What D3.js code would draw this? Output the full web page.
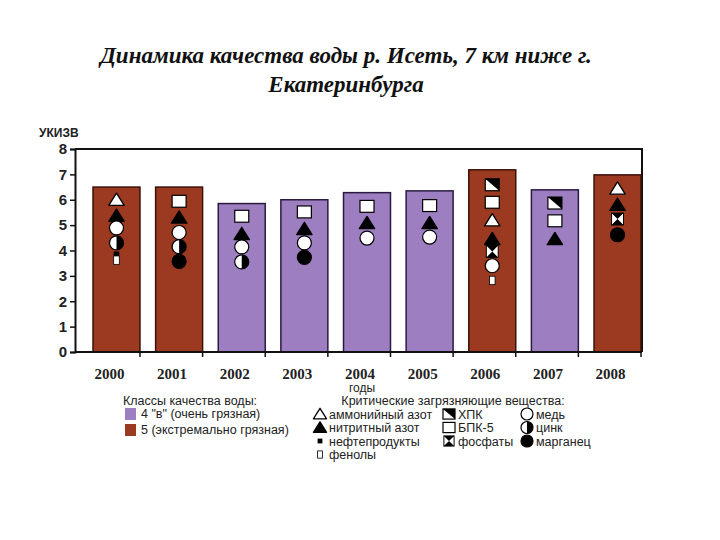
<!DOCTYPE html>
<html>
<head>
<meta charset="utf-8">
<script src="https://cdn.jsdelivr.net/npm/d3@7"></script>
<style>
  body { margin: 0; background: #fff; }
  text { font-family: "Liberation Sans", Arial, sans-serif; }
</style>
</head>
<body>
<svg id="chart" width="720" height="540"></svg>
<script>
// data
const years = ['2000', '2001', '2002', '2003', '2004', '2005', '2006', '2007', '2008'];
const ukizv = [6.5, 6.5, 5.85, 6.0, 6.28, 6.35, 7.18, 6.39, 6.98];
const waterClass = [5, 5, 4, 4, 4, 4, 5, 4, 5];
const yTicks = [0, 1, 2, 3, 4, 5, 6, 7, 8];

// critical pollutants per year: [code, position on УКИЗВ scale]
const pollutants = [
    [['amm', 6.0], ['nit', 5.37], ['cu', 4.89], ['zn', 4.3], ['neft', 3.85], ['phen', 3.62]],
    [['bpk', 5.94], ['nit', 5.3], ['cu', 4.71], ['zn', 4.15], ['mn', 3.57]],
    [['bpk', 5.35], ['nit', 4.65], ['cu', 4.14], ['zn', 3.55]],
    [['bpk', 5.52], ['nit', 4.85], ['cu', 4.3], ['mn', 3.73]],
    [['bpk', 5.74], ['nit', 5.08], ['cu', 4.49]],
    [['bpk', 5.77], ['nit', 5.08], ['cu', 4.53]],
    [['xpk', 6.59], ['bpk', 5.9], ['amm', 5.19], ['nit', 4.45], ['phos', 3.96], ['cu', 3.4], ['phen', 2.82]],
    [['xpk', 5.87], ['bpk', 5.17], ['nit', 4.45]],
    [['amm', 6.44], ['nit', 5.8], ['phos', 5.24], ['mn', 4.62]]
];

const classLabels = [[4, '4 "в" (очень грязная)'], [5, '5 (экстремально грязная)']];
const substanceLabels = [
    ['amm', 'аммонийный азот'], ['nit', 'нитритный азот'], ['neft', 'нефтепродукты'], ['phen', 'фенолы'],
    ['xpk', 'ХПК'], ['bpk', 'БПК-5'], ['phos', 'фосфаты'],
    ['cu', 'медь'], ['zn', 'цинк'], ['mn', 'марганец']
];

const classColor = { 4: '#9d7ec0', 5: '#9b3a20' };

const svg = d3.select('#chart');

// title
const titleLines = ['Динамика качества воды р. Исеть, 7 км ниже г.', 'Екатеринбурга'];
svg.selectAll('.title').data(titleLines).enter().append('text')
    .attr('class', 'title')
    .attr('x', 346).attr('y', (d, i) => 63 + i * 29)
    .attr('text-anchor', 'middle')
    .style('font-family', '"Liberation Serif", "Times New Roman", serif')
    .style('font-style', 'italic').style('font-weight', 'bold')
    .style('font-size', '23px')
    .attr('fill', '#111')
    .text(d => d);

const plotLeft = 75, plotRight = 642, plotTop = 149, plotBottom = 352;

const x = d3.scaleBand().domain(years).range([93, 641]).paddingInner(0.25).paddingOuter(0);
const y = d3.scaleLinear().domain([0, 8]).range([plotBottom, plotTop]);

// frame top/right
svg.append('path')
    .attr('d', `M${plotLeft},${plotTop}H${plotRight}V${plotBottom}`)
    .attr('fill', 'none').attr('stroke', '#111').attr('stroke-width', 2);

// bars
svg.selectAll('.bar').data(years).enter().append('rect')
    .attr('class', 'bar')
    .attr('x', d => x(d))
    .attr('width', x.bandwidth())
    .attr('y', (d, i) => y(ukizv[i]))
    .attr('height', (d, i) => plotBottom - y(ukizv[i]))
    .attr('fill', (d, i) => classColor[waterClass[i]])
    .attr('stroke', (d, i) => waterClass[i] == 5 ? '#3a1208' : '#2a1a40')
    .attr('stroke-width', 1.5);

// y axis
const yAxis = svg.append('g')
    .attr('transform', `translate(${plotLeft},0)`)
    .call(d3.axisLeft(y).tickValues(yTicks).tickSize(5).tickFormat(d3.format('d')));
yAxis.select('.domain').attr('stroke', '#111').attr('stroke-width', 2);
yAxis.selectAll('.tick line').attr('stroke', '#111').attr('stroke-width', 1.5);
yAxis.selectAll('.tick text')
    .attr('x', -8)
    .style('font-size', '15px').style('font-weight', 'bold').attr('fill', '#222');

svg.append('text')
    .attr('x', 39).attr('y', 137)
    .style('font-size', '12px').style('font-weight', 'bold').attr('fill', '#222')
    .text('УКИЗВ');

// x axis: baseline with ticks at the right edge of each bar
svg.append('line')
    .attr('x1', plotLeft).attr('x2', plotRight).attr('y1', plotBottom).attr('y2', plotBottom)
    .attr('stroke', '#111').attr('stroke-width', 2);
svg.selectAll('.xtick').data(years).enter().append('line')
    .attr('class', 'xtick')
    .attr('x1', d => x(d) + x.bandwidth()).attr('x2', d => x(d) + x.bandwidth())
    .attr('y1', plotBottom).attr('y2', plotBottom + 5)
    .attr('stroke', '#111').attr('stroke-width', 1.5);
svg.selectAll('.xlabel').data(years).enter().append('text')
    .attr('class', 'xlabel')
    .attr('x', d => x(d) + x.bandwidth() / 2 - 7)
    .attr('y', 379)
    .attr('text-anchor', 'middle')
    .style('font-family', '"Liberation Serif", "Times New Roman", serif')
    .style('font-weight', 'bold').style('font-size', '15px')
    .attr('fill', '#222')
    .text(d => d);
svg.append('text')
    .attr('x', 362).attr('y', 392)
    .attr('text-anchor', 'middle')
    .style('font-size', '12px').attr('fill', '#222')
    .text('годы');

// pollutant symbols
function drawSymbol(g, code, cx, cy, s) {
    const h = s / 2;
    if (code == 'amm' || code == 'nit') {
        g.append('path')
            .attr('d', `M${cx},${cy - h * 0.95}L${cx + h * 1.1},${cy + h * 0.8}L${cx - h * 1.1},${cy + h * 0.8}Z`)
            .attr('fill', code == 'amm' ? '#fff' : '#000')
            .attr('stroke', '#000').attr('stroke-width', 1.3).attr('stroke-linejoin', 'round');
    } else if (code == 'bpk' || code == 'xpk') {
        g.append('rect')
            .attr('x', cx - h).attr('y', cy - h * 0.85).attr('width', s).attr('height', s * 0.85)
            .attr('fill', '#fff').attr('stroke', '#000').attr('stroke-width', 1.2);
        if (code == 'xpk') {
            g.append('path')
                .attr('d', `M${cx - h},${cy - h * 0.85}H${cx + h}V${cy + h * 0.85}Z`)
                .attr('fill', '#000');
        }
    } else if (code == 'phos') {
        g.append('rect')
            .attr('x', cx - h * 0.85).attr('y', cy - h * 0.85).attr('width', s * 0.85).attr('height', s * 0.85)
            .attr('fill', '#fff').attr('stroke', '#000').attr('stroke-width', 1);
        g.append('path')
            .attr('d', `M${cx - h * 0.85},${cy - h * 0.85}H${cx + h * 0.85}L${cx},${cy}Z` +
                `M${cx - h * 0.85},${cy + h * 0.85}H${cx + h * 0.85}L${cx},${cy}Z`)
            .attr('fill', '#000');
    } else if (code == 'cu' || code == 'mn') {
        g.append('circle')
            .attr('cx', cx).attr('cy', cy).attr('r', h)
            .attr('fill', code == 'cu' ? '#fff' : '#000')
            .attr('stroke', '#000').attr('stroke-width', 1.2);
    } else if (code == 'zn') {
        g.append('circle')
            .attr('cx', cx).attr('cy', cy).attr('r', h)
            .attr('fill', '#fff').attr('stroke', '#000').attr('stroke-width', 1.2);
        g.append('path')
            .attr('d', `M${cx},${cy - h}A${h},${h} 0 0 1 ${cx},${cy + h}Z`)
            .attr('fill', '#000');
    } else if (code == 'neft') {
        g.append('rect')
            .attr('x', cx - s * 0.2).attr('y', cy - s * 0.2).attr('width', s * 0.4).attr('height', s * 0.4)
            .attr('fill', '#000');
    } else if (code == 'phen') {
        g.append('rect')
            .attr('x', cx - s * 0.2).attr('y', cy - s * 0.3).attr('width', s * 0.4).attr('height', s * 0.6)
            .attr('fill', '#fff').attr('stroke', '#000').attr('stroke-width', 0.8);
    }
}

const marks = svg.append('g');
years.forEach((yr, i) => {
    const cx = x(yr) + x.bandwidth() / 2;
    pollutants[i].forEach(p => {
        drawSymbol(marks, p[0], cx, y(p[1]), 14);
    });
});

// legend: water classes
const leg = svg.append('g').style('font-size', '12.5px').attr('fill', '#222');
leg.append('text').attr('x', 190).attr('y', 405).attr('text-anchor', 'middle').text('Классы качества воды:');
classLabels.forEach((c, i) => {
    leg.append('rect')
        .attr('x', 125).attr('y', 408 + i * 16).attr('width', 11).attr('height', 12)
        .attr('fill', classColor[c[0]]);
    leg.append('text').attr('x', 141).attr('y', 418 + i * 16).text(c[1]);
});

// legend: pollutants (three columns)
leg.append('text').attr('x', 453).attr('y', 405).attr('text-anchor', 'middle').text('Критические загрязняющие вещества:');
const colX = [320, 449, 527];
const colOf = { amm: 0, nit: 0, neft: 0, phen: 0, xpk: 1, bpk: 1, phos: 1, cu: 2, zn: 2, mn: 2 };
const rowCount = [0, 0, 0];
substanceLabels.forEach(s => {
    const c = colOf[s[0]];
    const r = rowCount[c]++;
    const cy = 414 + r * 13.5;
    drawSymbol(leg, s[0], colX[c], cy, 12);
    leg.append('text').attr('x', colX[c] + 9).attr('y', cy + 4.5).text(s[1]);
});
</script>
</body>
</html>
